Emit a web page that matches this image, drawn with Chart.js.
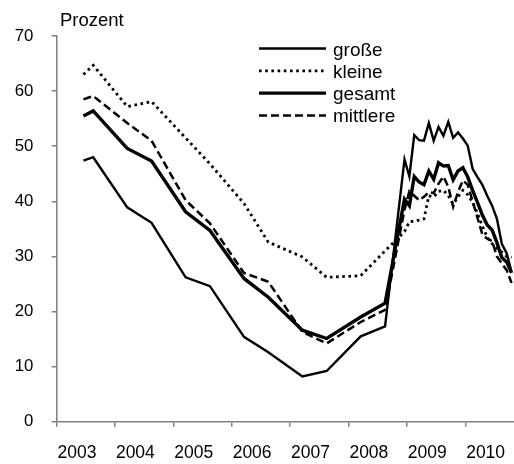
<!DOCTYPE html>
<html>
<head>
<meta charset="utf-8">
<script src="https://cdn.jsdelivr.net/npm/chart.js@4"></script>
<style>
  html, body { margin: 0; padding: 0; background: #fff; }
  #wrap { width: 514px; height: 464px; position: relative; }
</style>
</head>
<body>
<div id="wrap"><canvas id="c"></canvas></div>
<script>
// ---- data ----
const dates = [
  "2003-06","2003-08","2004-03","2004-08","2005-03","2005-08","2006-03","2006-08",
  "2007-03","2007-08","2008-03","2008-08",
  "2008-12",
  "2009-01","2009-02","2009-03","2009-04","2009-05","2009-06","2009-07","2009-08","2009-09","2009-10","2009-11","2009-12",
  "2010-01","2010-02","2010-03","2010-04","2010-05","2010-06","2010-07","2010-08","2010-09","2010-10"
];
const grosse = [
  47.4, 48.0, 38.9, 36.1, 26.2, 24.6, 15.4, 12.6, 8.2, 9.2, 15.5, 17.3,
  47.6,
  44.5, 52.0, 51.1, 51.0, 54.2, 51.0, 53.5, 51.9, 54.4, 51.5, 52.5, 51.4,
  50.1, 45.9, 44.4, 43.0, 41.0, 39.2, 36.8, 32.3, 30.6, 27.2
];
const kleine = [
  63.0, 64.7, 57.2, 58.1, 51.5, 46.8, 39.6, 32.6, 29.9, 26.2, 26.5, 31.0,
  34.5,
  36.3, 36.4, 36.6, 36.8, 41.0, 40.8, 41.8, 42.0, 41.0, 39.5, 40.8, 42.0,
  41.2, 39.8, 37.8, 35.5, 33.5, 32.3, 31.5, 30.8, 30.0, 29.8
];
const gesamt = [
  55.5, 56.4, 49.6, 47.3, 38.1, 34.7, 26.0, 22.6, 16.6, 15.1, 19.0, 21.5,
  40.4,
  39.2, 44.5, 43.5, 43.0, 45.5, 44.0, 47.0, 46.4, 46.5, 43.9, 45.5, 46.1,
  44.4, 42.0, 39.8, 37.5, 35.7, 34.8, 32.5, 29.8, 29.0, 27.0
];
const mittlere = [
  58.5, 59.1, 54.2, 51.0, 40.2, 36.0, 27.0, 25.4, 16.3, 14.2, 18.1, 20.3,
  38.5,
  41.8, 41.0, 40.2, 40.8, 41.7, 41.5, 43.2, 44.5, 42.6, 39.0, 41.7, 43.8,
  43.0, 40.0, 37.0, 34.0, 33.2, 32.8, 30.0, 28.7, 27.5, 25.2
];
const yearTicks = [2003, 2004, 2005, 2006, 2007, 2008, 2009, 2010];
const yTicks = [0, 10, 20, 30, 40, 50, 60, 70];
const seriesNames = ["große", "kleine", "gesamt", "mittlere"];
const yTitle = "Prozent";

// ---- helpers ----
function toYear(d) {
  const [y, m] = d.split("-").map(Number);
  return y + (m - 0.5) / 12;
}
function pts(vals) { return vals.map((v, i) => ({ x: toYear(dates[i]), y: v })); }

const FONT = "'Liberation Sans', Arial, sans-serif";
const AXIS = "#808080";

const styles = [
  { borderWidth: 2.4, borderDash: [] },
  { borderWidth: 2.8, borderDash: [2.6, 3.6] },
  { borderWidth: 3.4, borderDash: [] },
  { borderWidth: 2.5, borderDash: [8, 4] }
];
const allSeries = [grosse, kleine, gesamt, mittlere];

const datasets = allSeries.map((vals, i) => ({
  label: seriesNames[i],
  data: pts(vals),
  borderColor: "#000",
  backgroundColor: "#000",
  borderWidth: styles[i].borderWidth,
  borderDash: styles[i].borderDash,
  borderCapStyle: "butt",
  borderJoinStyle: "miter",
  pointRadius: 0,
  tension: 0,
  fill: false
}));

const overlay = {
  id: "overlay",
  afterDraw(chart) {
    const ctx = chart.ctx;
    ctx.save();
    ctx.fillStyle = "#000";
    ctx.font = "18.5px " + FONT;
    ctx.textAlign = "left";
    ctx.textBaseline = "alphabetic";
    ctx.fillText(yTitle, 60, 25.7);
    // legend
    const x0 = 259, x1 = 326, tx = 333;
    ctx.font = "19px " + FONT;
    seriesNames.forEach((name, i) => {
      const y = 48.5 + i * 22.3;
      ctx.beginPath();
      ctx.lineWidth = styles[i].borderWidth;
      ctx.setLineDash(styles[i].borderDash);
      ctx.strokeStyle = "#000";
      ctx.lineCap = "butt";
      ctx.moveTo(x0, y);
      ctx.lineTo(x1, y);
      ctx.stroke();
      ctx.setLineDash([]);
      ctx.fillText(name, tx, y + 7);
    });
    ctx.restore();
  }
};

new Chart(document.getElementById("c"), {
  type: "line",
  data: { datasets },
  options: {
    responsive: true,
    maintainAspectRatio: false,
    animation: false,
    devicePixelRatio: 1,
    layout: { padding: { top: 36, right: 0, left: 0, bottom: 0 } },
    plugins: { legend: { display: false }, tooltip: { enabled: false }, title: { display: false } },
    scales: {
      x: {
        type: "linear",
        min: 2003,
        max: 2010.834,
        afterBuildTicks: s => { s.ticks = yearTicks.map(v => ({ value: v })); },
        afterFit: s => { s.height = 42.3; },
        ticks: {
          callback: v => String(v),
          labelOffset: 20.3,
          padding: 16,
          autoSkip: false,
          maxRotation: 0,
          color: "#000",
          font: { family: FONT, size: 17.5 }
        },
        grid: { drawOnChartArea: false, drawTicks: true, tickLength: 5, color: AXIS, lineWidth: 1.5 },
        border: { display: true, color: AXIS, width: 1.5 }
      },
      y: {
        min: 0,
        max: 70,
        afterBuildTicks: s => { s.ticks = yTicks.map(v => ({ value: v })); },
        afterFit: s => { s.width = 56.7; },
        ticks: {
          callback: v => String(v),
          padding: 18.4,
          color: "#000",
          font: { family: FONT, size: 16.8 }
        },
        grid: { drawOnChartArea: false, drawTicks: true, tickLength: 5, color: AXIS, lineWidth: 1.5 },
        border: { display: true, color: AXIS, width: 1.5 }
      }
    }
  },
  plugins: [overlay]
});
</script>
</body>
</html>
